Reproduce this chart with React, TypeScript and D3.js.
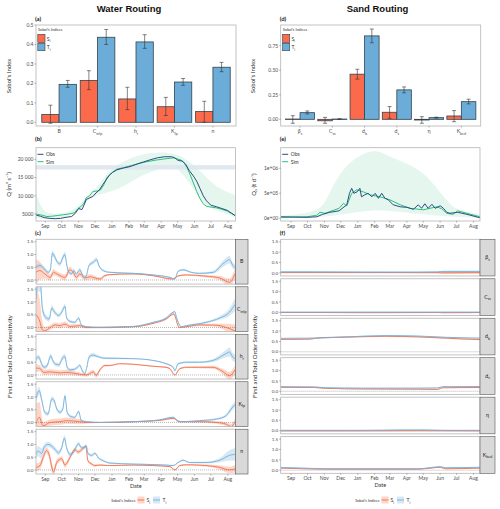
import * as d3 from "d3";

type Pt = [number, number, number]; // day since Aug 15, value, half band width
type P2 = [number, number];

// ---------- (a) / (d) Sobol's indices ----------
const waterParams: [string, string][] = [["B", ""], ["C", "mlp"], ["h", "r"], ["K", "fp"], ["n", ""]];
const waterSi = [0.04, 0.215, 0.12, 0.08, 0.055];
const waterSiLo = [-0.005, 0.168, 0.065, 0.035, 0.0];
const waterSiHi = [0.088, 0.265, 0.18, 0.128, 0.108];
const waterTi = [0.195, 0.437, 0.413, 0.207, 0.283];
const waterTiLo = [0.18, 0.4, 0.38, 0.19, 0.26];
const waterTiHi = [0.215, 0.477, 0.45, 0.225, 0.308];

const sandParams: [string, string][] = [["β", "s"], ["C", "ss"], ["d", "b"], ["d", "s"], ["η", ""], ["K", "bed"]];
const sandSi = [0.003, -0.015, 0.46, 0.072, -0.007, 0.034];
const sandSiLo = [-0.04, -0.04, 0.41, 0.01, -0.04, -0.024];
const sandSiHi = [0.037, 0.02, 0.51, 0.13, 0.027, 0.089];
const sandTi = [0.068, 0.003, 0.85, 0.3, 0.017, 0.18];
const sandTiLo = [0.055, 0.0, 0.78, 0.27, 0.012, 0.157];
const sandTiHi = [0.085, 0.006, 0.92, 0.33, 0.022, 0.205];

const waterBarTicks = [0, 0.1, 0.2, 0.3, 0.4, 0.5];
const waterBarLabels = ["0.0", "0.1", "0.2", "0.3", "0.4", "0.5"];
const sandBarTicks = [0, 0.25, 0.5, 0.75];
const sandBarLabels = ["0.00", "0.25", "0.50", "0.75"];

// ---------- (b) discharge ----------
const qTicks = [5000, 10000, 15000, 20000];
const qTickLabels = ["5000", "10 000", "15 000", "20 000"];
const qRefBand = [17200, 18400];
const qObs: P2[] = [
  [0, 4700], [8, 4400], [15, 4000], [25, 3800], [35, 3700], [45, 3800], [55, 4100], [65, 4300],
  [72, 5200], [78, 6500], [84, 6200], [88, 7500], [92, 9000], [98, 9400], [104, 9800], [110, 10800],
  [116, 11600], [122, 13000], [128, 14300], [134, 15600], [140, 16400], [148, 17100], [160, 17600],
  [172, 18000], [185, 18700], [197, 19300], [210, 19900], [222, 20400], [235, 20700], [248, 20700],
  [254, 20400], [260, 19700], [268, 19500], [274, 18600], [280, 17000], [288, 15400], [294, 14000],
  [300, 12000], [306, 10000], [312, 8600], [320, 7400], [330, 7000], [340, 6500], [350, 6000],
  [358, 5200], [364, 4600],
];
const qSim: P2[] = [
  [0, 5000], [10, 4700], [20, 4300], [30, 4400], [40, 4600], [50, 4800], [60, 5000], [70, 5300],
  [77, 6500], [82, 7000], [88, 8000], [92, 9500], [98, 10000], [104, 11200], [112, 11300], [118, 11600],
  [124, 13000], [130, 15000], [138, 16200], [148, 17300], [160, 17700], [175, 18300], [190, 18900],
  [205, 19400], [220, 19800], [240, 20200], [252, 20400], [258, 20100], [264, 19900], [270, 19200],
  [276, 17800], [282, 15800], [288, 13500], [294, 11200], [300, 9200], [306, 7800], [312, 7100],
  [320, 6900], [330, 6700], [340, 6300], [350, 5800], [358, 5100], [364, 4600],
];
const qUpper: P2[] = [
  [0, 10500], [8, 7500], [16, 5500], [30, 5000], [46, 5200], [60, 5500], [77, 7000], [92, 9500],
  [107, 11500], [122, 14500], [138, 17500], [160, 19500], [185, 21000], [210, 21800], [235, 22000],
  [255, 21400], [270, 20500], [289, 18500], [305, 16000], [319, 14000], [335, 12000], [350, 11000], [364, 10200],
];
const qLower: P2[] = [
  [0, 4000], [16, 3600], [46, 3700], [77, 5500], [92, 8500], [107, 10000], [122, 10500], [138, 11200],
  [160, 12500], [185, 15000], [210, 16500], [235, 18000], [255, 18500], [270, 15500], [289, 12000],
  [305, 8000], [319, 6500], [335, 5800], [350, 5000], [364, 4200],
];

// ---------- (e) sediment discharge ----------
const qsTicks = [0, 5e5, 1e6];
const qsTickLabels = ["0e+00", "5e+05", "1e+06"];
const qsObs: P2[] = [
  [-2, 30000], [21, 25000], [46, 20000], [64, 30000], [75, 80000], [88, 120000], [105, 150000],
  [119, 270000], [124, 500000], [128, 600000], [132, 500000], [138, 530000], [143, 600000],
  [146, 430000], [152, 470000], [158, 500000], [165, 430000], [171, 500000], [177, 400000],
  [183, 500000], [189, 400000], [195, 370000], [204, 270000], [217, 230000], [229, 220000],
  [241, 180000], [250, 270000], [256, 200000], [262, 290000], [268, 200000], [275, 280000],
  [281, 200000], [290, 250000], [296, 200000], [302, 120000], [308, 100000], [322, 120000],
  [339, 80000], [363, 10000],
];
const qsSim: P2[] = [
  [-2, 20000], [46, 30000], [64, 60000], [70, 120000], [79, 100000], [105, 200000], [113, 300000],
  [119, 250000], [128, 500000], [137, 570000], [149, 530000], [162, 470000], [180, 430000],
  [198, 370000], [217, 270000], [235, 200000], [259, 170000], [284, 230000], [293, 190000],
  [302, 100000], [314, 80000], [322, 150000], [339, 100000], [363, 30000],
];
const qsUpper: P2[] = [
  [-2, 50000], [46, 100000], [75, 200000], [88, 530000], [105, 870000], [125, 1130000], [150, 1300000],
  [168, 1350000], [180, 1340000], [198, 1230000], [229, 1100000], [259, 930000], [290, 530000],
  [308, 270000], [322, 170000], [363, 80000],
];
const qsLower: P2[] = [
  [-2, 0], [75, 20000], [105, 70000], [137, 120000], [168, 170000], [198, 150000], [229, 120000],
  [259, 80000], [290, 50000], [363, 10000],
];

// ---------- (c) water routing sensitivity ----------
const sensTicks = [0, 0.5, 1, 1.5];
const sensLabels = ["0.0", "0.5", "1.0", "1.5"];

const wB_T: Pt[] = [[0,0.5,0.08],[7,0.57,0.08],[16,0.43,0.08],[22,0.3,0.07],[26,0.37,0.08],[30,1.05,0.12],[35,0.88,0.1],[39,0.7,0.08],[44,0.63,0.08],[48,0.83,0.1],[53,1.0,0.12],[56,0.63,0.08],[60,0.3,0.06],[65,0.24,0.06],[69,0.37,0.07],[74,0.24,0.06],[80,0.4,0.07],[88,0.1,0.05],[92,0.17,0.05],[97,0.57,0.07],[105,0.7,0.08],[111,0.8,0.09],[115,0.57,0.06],[123,0.37,0.04],[135,0.3,0.03],[178,0.26,0.02],[214,0.2,0.02],[245,0.1,0.03],[254,0.04,0.03],[260,0.34,0.04],[269,0.4,0.04],[284,0.3,0.03],[299,0.26,0.03],[324,0.3,0.05],[342,0.63,0.12],[354,0.8,0.15],[360,0.57,0.12],[364,0.5,0.12]];
const wB_S: Pt[] = [[0,0.3,0.5],[7,0.37,0.35],[16,0.24,0.18],[26,0.1,0.12],[32,0.3,0.12],[38,0.24,0.1],[44,0.17,0.1],[53,0.1,0.12],[62,0.4,0.12],[68,0.3,0.1],[74,0.1,0.1],[80,0.24,0.1],[90,0.08,0.1],[99,0.13,0.1],[108,0.08,0.08],[117,0.04,0.06],[126,0.17,0.05],[135,0.21,0.03],[178,0.24,0.02],[214,0.17,0.02],[250,0.04,0.03],[260,0.16,0.03],[275,0.2,0.03],[311,0.15,0.04],[336,0.08,0.08],[354,-0.09,0.15],[364,0.24,0.2]];
const wC_T: Pt[] = [[0,1.1,0.3],[3,1.7,0.3],[8,1.7,0.3],[12,0.7,0.15],[19,0.37,0.1],[24,0.33,0.1],[29,0.77,0.1],[32,0.67,0.1],[37,0.53,0.08],[41,0.47,0.08],[47,0.6,0.09],[53,0.83,0.1],[56,0.37,0.07],[62,0.24,0.06],[71,0.2,0.05],[78,0.37,0.06],[83,0.1,0.04],[92,0.03,0.03],[117,0.0,0.02],[178,0.04,0.02],[214,0.2,0.02],[238,0.37,0.03],[251,0.6,0.04],[254,0.62,0.04],[257,0.4,0.04],[266,0.03,0.03],[275,0.07,0.03],[311,0.2,0.04],[336,0.37,0.07],[354,0.6,0.15],[364,0.9,0.25]];
const wC_S: Pt[] = [[0,0.5,1.0],[6,0.3,0.9],[12,-0.1,0.3],[16,-0.13,0.15],[26,0.0,0.1],[35,0.1,0.1],[44,0.07,0.1],[53,0.13,0.1],[62,0.04,0.08],[80,0.07,0.07],[92,0.0,0.04],[178,0.03,0.02],[214,0.16,0.02],[238,0.33,0.03],[252,0.53,0.04],[262,0.0,0.03],[275,0.03,0.03],[299,0.1,0.04],[330,0.09,0.06],[348,0.0,0.15],[364,-0.13,0.25]];
const wH_T: Pt[] = [[0,0.64,0.1],[5,0.7,0.1],[10,0.45,0.1],[14,0.3,0.08],[20,0.35,0.08],[27,0.75,0.1],[31,0.55,0.08],[36,0.42,0.08],[42,0.4,0.08],[49,0.68,0.1],[53,0.72,0.1],[57,0.3,0.07],[62,0.2,0.06],[70,0.22,0.06],[76,0.3,0.06],[80,0.38,0.06],[85,0.15,0.05],[89,0.05,0.05],[93,0.3,0.06],[97,0.7,0.08],[104,0.78,0.08],[112,0.73,0.06],[124,0.66,0.04],[178,0.64,0.02],[214,0.57,0.02],[238,0.44,0.03],[251,0.3,0.04],[254,0.17,0.04],[260,0.44,0.04],[275,0.5,0.04],[299,0.5,0.04],[324,0.57,0.06],[348,0.84,0.15],[354,0.9,0.18],[360,0.7,0.15],[364,0.65,0.15]];
const wH_S: Pt[] = [[0,0.27,0.15],[7,0.26,0.12],[14,0.1,0.1],[26,0.12,0.1],[44,0.08,0.1],[56,0.1,0.1],[74,0.05,0.08],[92,0.0,0.06],[105,0.12,0.08],[110,-0.02,0.08],[117,0.2,0.06],[126,0.37,0.04],[135,0.37,0.03],[153,0.44,0.02],[178,0.42,0.02],[214,0.34,0.02],[238,0.3,0.03],[245,0.24,0.03],[254,0.0,0.03],[263,0.24,0.03],[275,0.3,0.03],[299,0.3,0.04],[324,0.3,0.06],[342,0.13,0.1],[354,-0.03,0.15],[364,0.2,0.18]];
const wK_T: Pt[] = [[0,0.93,0.2],[6,1.25,0.15],[10,0.93,0.12],[16,0.4,0.08],[22,0.33,0.08],[29,0.93,0.1],[33,0.87,0.1],[38,0.53,0.08],[44,0.4,0.08],[49,0.53,0.08],[53,1.04,0.1],[57,0.4,0.07],[63,0.24,0.06],[71,0.2,0.05],[78,0.43,0.06],[83,0.07,0.04],[92,0.03,0.03],[117,0.0,0.02],[178,0.03,0.02],[226,0.1,0.02],[251,0.2,0.03],[257,0.1,0.03],[266,0.03,0.02],[299,0.07,0.03],[330,0.13,0.04],[348,0.27,0.06],[357,0.53,0.1],[364,0.7,0.12]];
const wK_S: Pt[] = [[0,-0.07,0.8],[6,0.2,0.6],[13,-0.13,0.15],[26,0.0,0.12],[44,0.03,0.12],[56,0.07,0.12],[80,0.03,0.1],[95,0.0,0.04],[117,0.0,0.02],[178,0.03,0.02],[226,0.08,0.02],[252,0.16,0.03],[262,0.03,0.02],[299,0.03,0.03],[330,0.0,0.05],[348,-0.07,0.08],[357,-0.16,0.1],[364,0.03,0.12]];
const wN_T: Pt[] = [[0,0.61,0.15],[4,0.74,0.2],[10,0.65,0.2],[16,0.93,0.12],[22,1.0,0.1],[29,0.93,0.1],[35,0.8,0.1],[41,0.67,0.1],[47,0.87,0.1],[52,1.25,0.12],[56,0.87,0.1],[62,0.61,0.08],[68,0.67,0.08],[74,0.93,0.08],[78,1.03,0.08],[83,0.87,0.07],[88,0.87,0.07],[92,0.95,0.06],[95,0.65,0.06],[102,0.57,0.06],[108,0.65,0.05],[114,0.48,0.05],[123,0.36,0.04],[135,0.27,0.03],[178,0.23,0.02],[214,0.21,0.02],[238,0.19,0.02],[251,0.17,0.03],[260,0.29,0.03],[269,0.38,0.04],[281,0.29,0.03],[311,0.29,0.04],[336,0.38,0.08],[354,0.57,0.2],[364,0.61,0.25]];
const wN_S: Pt[] = [[0,0.1,0.15],[7,0.16,0.15],[13,0.48,0.15],[19,0.76,0.12],[24,0.6,0.15],[28,0.2,0.2],[32,-0.08,0.15],[38,0.3,0.12],[44,0.42,0.1],[47,0.44,0.1],[53,0.19,0.1],[59,0.36,0.1],[65,0.61,0.08],[71,0.8,0.08],[77,0.7,0.08],[83,0.78,0.08],[91,0.93,0.06],[95,0.36,0.06],[102,0.23,0.06],[108,0.17,0.05],[117,0.19,0.03],[135,0.17,0.02],[178,0.19,0.02],[214,0.17,0.02],[245,0.13,0.03],[254,0.0,0.03],[263,0.17,0.03],[275,0.2,0.03],[311,0.17,0.04],[336,0.1,0.08],[354,0.0,0.12],[364,0.04,0.15]];

// ---------- (f) sand routing sensitivity ----------
const sBs_T: Pt[] = [[-2,0.05,0.02],[60,0.05,0.02],[150,0.04,0.015],[250,0.04,0.015],[285,0.05,0.02],[295,0.07,0.03],[363,0.07,0.03]];
const sBs_S: Pt[] = [[-2,0.02,0.02],[150,0.02,0.02],[285,0.01,0.02],[295,0.0,0.03],[363,0.01,0.03]];
const sCs_T: Pt[] = [[-2,0.01,0.01],[100,0.01,0.01],[250,0.01,0.01],[363,0.01,0.01]];
const sCs_S: Pt[] = [[-2,-0.01,0.015],[80,-0.01,0.015],[150,-0.02,0.015],[285,-0.01,0.02],[295,-0.02,0.02],[363,-0.01,0.02]];
const sDb_T: Pt[] = [[-2,0.65,0.02],[60,0.66,0.02],[120,0.72,0.02],[190,0.78,0.03],[250,0.76,0.02],[300,0.7,0.02],[363,0.66,0.02]];
const sDb_S: Pt[] = [[-2,0.6,0.03],[50,0.61,0.03],[70,0.68,0.03],[120,0.71,0.03],[190,0.75,0.03],[250,0.72,0.03],[300,0.66,0.03],[330,0.62,0.03],[363,0.59,0.03]];
const sDs_T: Pt[] = [[-2,0.22,0.02],[60,0.21,0.02],[80,0.17,0.02],[150,0.15,0.02],[250,0.15,0.02],[285,0.16,0.02],[295,0.22,0.02],[363,0.23,0.02]];
const sDs_S: Pt[] = [[-2,0.19,0.02],[60,0.18,0.02],[80,0.14,0.02],[150,0.11,0.02],[250,0.1,0.02],[285,0.09,0.02],[295,0.17,0.02],[363,0.18,0.02]];
const sEta_T: Pt[] = [[-2,0.02,0.01],[150,0.02,0.01],[220,0.04,0.01],[260,0.04,0.01],[300,0.02,0.01],[363,0.02,0.01]];
const sEta_S: Pt[] = [[-2,-0.01,0.02],[120,-0.01,0.02],[250,0.0,0.02],[363,-0.01,0.02]];
const sKb_T: Pt[] = [[-2,0.13,0.02],[40,0.1,0.02],[80,0.07,0.02],[250,0.07,0.02],[280,0.15,0.02],[290,0.17,0.02],[300,0.12,0.02],[363,0.14,0.02]];
const sKb_S: Pt[] = [[-2,0.1,0.02],[40,0.07,0.02],[80,0.05,0.02],[250,0.05,0.02],[280,0.12,0.02],[290,0.14,0.02],[300,0.07,0.02],[363,0.1,0.02]];

const waterSens = [
  { p: waterParams[0], s: wB_S, t: wB_T },
  { p: waterParams[1], s: wC_S, t: wC_T },
  { p: waterParams[2], s: wH_S, t: wH_T },
  { p: waterParams[3], s: wK_S, t: wK_T },
  { p: waterParams[4], s: wN_S, t: wN_T },
];
const sandSens = [
  { p: sandParams[0], s: sBs_S, t: sBs_T },
  { p: sandParams[1], s: sCs_S, t: sCs_T },
  { p: sandParams[2], s: sDb_S, t: sDb_T },
  { p: sandParams[3], s: sDs_S, t: sDs_T },
  { p: sandParams[4], s: sEta_S, t: sEta_T },
  { p: sandParams[5], s: sKb_S, t: sKb_T },
];

// colours
const SI = "#fc6a4c";
const TI = "#6badd8";
const SI_LINE = "#f36e4f";
const TI_LINE = "#70b0dc";
const OBS = "#2a4c84";
const SIM = "#2fbf7a";
const GRID = "#b5b5b5";
const TXT = "#4d4d4d";
const FONT = "Lato, 'DejaVu Sans', sans-serif";

const toDate = (d: number) => new Date(2001, 7, 15 + d);
const months = d3.timeMonth.range(new Date(2001, 8, 1), new Date(2002, 7, 2));
const fmtMonth = d3.timeFormat("%b");

const xLeft = d3.scaleTime().domain([toDate(0), toDate(365)]).range([36, 235.5]);
const xRight = d3.scaleTime().domain([toDate(-2), toDate(363)]).range([280.7, 480]);

function Sub({ base, sub, fs }: { base: string; sub: string; fs: number }) {
  return (
    <>
      {base}
      {sub ? (
        <tspan fontSize={fs * 0.7} dy={fs * 0.3}>
          {sub}
        </tspan>
      ) : null}
    </>
  );
}

function BarPanel(props: any) {
  const { left, right, top, bottom, params, si, siLo, siHi, ti, tiLo, tiHi, domain, ticks, tickLabels, tag } = props;
  const x = d3.scalePoint<number>().domain(d3.range(params.length)).range([left, right]).padding(0.6);
  const y = d3.scaleLinear().domain(domain).range([bottom, top]);
  const bw = x.step() * 0.45;
  const cap = 2;
  const bars = (vals: number[], lo: number[], hi: number[], off: number, fill: string) =>
    vals.map((v, i) => {
      const cx = (x(i) as number) + off;
      return (
        <g key={i}>
          <rect x={cx - bw / 2} y={Math.min(y(v), y(0))} width={bw} height={Math.max(0.4, Math.abs(y(v) - y(0)))}
            fill={fill} stroke="#34434d" strokeWidth={0.8} />
          <line x1={cx} x2={cx} y1={y(lo[i])} y2={y(hi[i])} stroke="#333" strokeWidth={0.6} />
          <line x1={cx - cap} x2={cx + cap} y1={y(lo[i])} y2={y(lo[i])} stroke="#333" strokeWidth={0.6} />
          <line x1={cx - cap} x2={cx + cap} y1={y(hi[i])} y2={y(hi[i])} stroke="#333" strokeWidth={0.6} />
        </g>
      );
    });
  return (
    <g fontFamily={FONT}>
      <text x={left - 1} y={top - 4.5} fontSize={6} fontWeight="bold" fill="#222">{tag}</text>
      {bars(si, siLo, siHi, -bw / 2, SI)}
      {bars(ti, tiLo, tiHi, bw / 2, TI)}
      <rect x={left} y={top} width={right - left} height={bottom - top} fill="none" stroke={GRID} strokeWidth={0.8} />
      {ticks.map((t: number, i: number) => (
        <g key={t}>
          <line x1={left - 1.5} x2={left} y1={y(t)} y2={y(t)} stroke="#666" strokeWidth={0.5} />
          <text x={left - 2.5} y={y(t) + 1.8} fontSize={5} textAnchor="end" fill={TXT}>{tickLabels[i]}</text>
        </g>
      ))}
      {params.map((p: [string, string], i: number) => (
        <g key={i}>
          <line x1={x(i)} x2={x(i)} y1={bottom} y2={bottom + 1.5} stroke="#666" strokeWidth={0.5} />
          <text x={x(i)} y={bottom + 7} fontSize={5.2} textAnchor="middle" fill={TXT}>
            <Sub base={p[0]} sub={p[1]} fs={5.2} />
          </text>
        </g>
      ))}
      <text x={left + 2} y={top + 5.5} fontSize={3.8} fill="#333">Sobol's Indices</text>
      <rect x={left + 1.8} y={top + 9.3} width={7.2} height={8.3} fill={SI} stroke="#34434d" strokeWidth={0.6} />
      <rect x={left + 1.8} y={top + 18.3} width={7.2} height={7.4} fill={TI} stroke="#34434d" strokeWidth={0.6} />
      <text x={left + 10.7} y={top + 15.5} fontSize={5} fill="#333"><Sub base="S" sub="i" fs={5} /></text>
      <text x={left + 10.7} y={top + 24} fontSize={5} fill="#333"><Sub base="T" sub="i" fs={5} /></text>
    </g>
  );
}

function FlowPanel(props: any) {
  const { x, top, bottom, domain, ticks, tickLabels, obs, sim, upper, lower, refBand, tag, id } = props;
  const [left, right] = x.range();
  const y = d3.scaleLinear().domain(domain).range([bottom, top]);
  const band = d3.area<P2>().x((d) => x(toDate(d[0]))).y0((d, i) => y(lower ? d[1] : 0)).y1((d) => y(d[1])).curve(d3.curveBasis);
  const ln = d3.line<P2>().x((d) => x(toDate(d[0]))).y((d) => y(d[1]));
  const up = d3.line<P2>().x((d) => x(toDate(d[0]))).y((d) => y(d[1])).curve(d3.curveBasis)(upper) as string;
  const lowRev = [...lower].reverse();
  const low = d3.line<P2>().x((d) => x(toDate(d[0]))).y((d) => y(d[1])).curve(d3.curveBasis)(lowRev) as string;
  const bandPath = up + "L" + low.slice(1) + "Z";
  void band;
  return (
    <g fontFamily={FONT}>
      <text x={left - 1} y={top - 6.5} fontSize={6} fontWeight="bold" fill="#222">{tag}</text>
      <clipPath id={id}><rect x={left} y={top} width={right - left} height={bottom - top} /></clipPath>
      <g clipPath={`url(#${id})`}>
        <path d={bandPath} fill="#e4f6ed" />
        {refBand ? (
          <rect x={left} y={y(refBand[1])} width={right - left} height={y(refBand[0]) - y(refBand[1])} fill="#dde5ee" opacity={0.9} />
        ) : null}
        <path d={ln(sim) as string} fill="none" stroke={SIM} strokeWidth={1} />
        <path d={ln(obs) as string} fill="none" stroke={OBS} strokeWidth={1} />
      </g>
      <rect x={left} y={top} width={right - left} height={bottom - top} fill="none" stroke={GRID} strokeWidth={0.8} />
      {ticks.map((t: number, i: number) => (
        <g key={t}>
          <line x1={left - 1.5} x2={left} y1={y(t)} y2={y(t)} stroke="#666" strokeWidth={0.5} />
          <text x={left - 2.5} y={y(t) + 1.8} fontSize={5} textAnchor="end" fill={TXT}>{tickLabels[i]}</text>
        </g>
      ))}
      {months.map((m, i) => (
        <g key={i}>
          <line x1={x(m)} x2={x(m)} y1={bottom} y2={bottom + 1.5} stroke="#666" strokeWidth={0.5} />
          <text x={x(m)} y={bottom + 7} fontSize={5} textAnchor="middle" fill={TXT}>{fmtMonth(m)}</text>
        </g>
      ))}
      <line x1={left + 1.5} x2={left + 7.5} y1={top + 6.6} y2={top + 6.6} stroke={OBS} strokeWidth={1} />
      <line x1={left + 1.5} x2={left + 7.5} y1={top + 14} y2={top + 14} stroke={SIM} strokeWidth={1} />
      <text x={left + 10} y={top + 8.4} fontSize={5} fill="#333">Obs</text>
      <text x={left + 10} y={top + 15.8} fontSize={5} fill="#333">Sim</text>
    </g>
  );
}

function SensColumn(props: any) {
  const { x, top, bottom, gap, domain, facets, stripW, tag, idp } = props;
  const [left, right] = x.range();
  const n = facets.length;
  const h = (bottom - top - gap * (n - 1)) / n;
  return (
    <g fontFamily={FONT}>
      <text x={left - 1} y={top - 4} fontSize={6} fontWeight="bold" fill="#222">{tag}</text>
      {facets.map((f: any, k: number) => {
        const t0 = top + k * (h + gap);
        const y = d3.scaleLinear().domain(domain).range([t0 + h, t0]);
        const area = d3.area<Pt>().x((d) => x(toDate(d[0]))).y0((d) => y(d[1] - d[2])).y1((d) => y(d[1] + d[2])).curve(d3.curveMonotoneX);
        const line = d3.line<Pt>().x((d) => x(toDate(d[0]))).y((d) => y(d[1])).curve(d3.curveMonotoneX);
        const cid = `${idp}${k}`;
        return (
          <g key={k}>
            <clipPath id={cid}><rect x={left} y={t0} width={right - left} height={h} /></clipPath>
            <g clipPath={`url(#${cid})`}>
              <path d={area(f.s) as string} fill="#fcae91" opacity={0.5} />
              <path d={area(f.t) as string} fill="#a6cde6" opacity={0.45} />
              <line x1={left} x2={right} y1={y(0)} y2={y(0)} stroke="#666" strokeWidth={0.6} strokeDasharray="0.8,1.2" />
              <path d={line(f.s) as string} fill="none" stroke={SI_LINE} strokeWidth={0.9} />
              <path d={line(f.t) as string} fill="none" stroke={TI_LINE} strokeWidth={0.9} />
            </g>
            <rect x={left} y={t0} width={right - left} height={h} fill="none" stroke={GRID} strokeWidth={0.8} />
            <rect x={right} y={t0} width={stripW} height={h} fill="#d9d9d9" stroke="#555" strokeWidth={0.6} />
            <text x={right + stripW / 2} y={t0 + h / 2 + 1.8} fontSize={5.2} textAnchor="middle" fill="#1a1a1a">
              <Sub base={f.p[0]} sub={f.p[1]} fs={5.2} />
            </text>
            {sensTicks.map((t, i) => (
              <g key={t}>
                <line x1={left - 1.5} x2={left} y1={y(t)} y2={y(t)} stroke="#666" strokeWidth={0.5} />
                <text x={left - 2.5} y={y(t) + 1.7} fontSize={4.6} textAnchor="end" fill={TXT}>{sensLabels[i]}</text>
              </g>
            ))}
          </g>
        );
      })}
      {months.map((m, i) => (
        <g key={i}>
          <line x1={x(m)} x2={x(m)} y1={bottom} y2={bottom + 1.5} stroke="#666" strokeWidth={0.5} />
          <text x={x(m)} y={bottom + 7} fontSize={5} textAnchor="middle" fill={TXT}>{fmtMonth(m)}</text>
        </g>
      ))}
      <text x={(left + right) / 2} y={bottom + 13.5} fontSize={5.5} textAnchor="middle" fill="#333">Date</text>
    </g>
  );
}

function BottomLegend({ xEnd, y }: { xEnd: number; y: number }) {
  return (
    <g fontFamily={FONT}>
      <text x={xEnd} y={y + 1.5} fontSize={3.8} textAnchor="end" fill="#333">Sobol's Indices</text>
      <rect x={xEnd + 2} y={y - 3.5} width={7} height={7} fill="#fcae91" opacity={0.5} />
      <line x1={xEnd + 2} x2={xEnd + 9} y1={y} y2={y} stroke={SI_LINE} strokeWidth={0.9} />
      <text x={xEnd + 11} y={y + 2} fontSize={5} fill="#333"><Sub base="S" sub="i" fs={5} /></text>
      <rect x={xEnd + 17.5} y={y - 3.5} width={7} height={7} fill="#a6cde6" opacity={0.45} />
      <line x1={xEnd + 17.5} x2={xEnd + 24.5} y1={y} y2={y} stroke={TI_LINE} strokeWidth={0.9} />
      <text x={xEnd + 27} y={y + 2} fontSize={5} fill="#333"><Sub base="T" sub="i" fs={5} /></text>
    </g>
  );
}

export default function App() {
  return (
    <svg width={500} height={509} viewBox="0 0 500 509" style={{ position: "absolute", left: 0, top: 0, background: "#fff" }}>
      <rect width={500} height={509} fill="#fff" />
      <text x={129} y={11.5} fontSize={9.5} fontWeight="bold" textAnchor="middle" fontFamily="'Liberation Sans', Arial, sans-serif" fill="#111">Water Routing</text>
      <text x={377.5} y={11.5} fontSize={9.5} fontWeight="bold" textAnchor="middle" fontFamily="'Liberation Sans', Arial, sans-serif" fill="#111">Sand Routing</text>

      <BarPanel left={36} right={236} top={25} bottom={126} params={waterParams}
        si={waterSi} siLo={waterSiLo} siHi={waterSiHi} ti={waterTi} tiLo={waterTiLo} tiHi={waterTiHi}
        domain={[-0.019, 0.5]} ticks={waterBarTicks} tickLabels={waterBarLabels} tag="(a)" />
      <BarPanel left={280.7} right={480.7} top={25} bottom={126} params={sandParams}
        si={sandSi} siLo={sandSiLo} siHi={sandSiHi} ti={sandTi} tiLo={sandTiLo} tiHi={sandTiHi}
        domain={[-0.068, 0.961]} ticks={sandBarTicks} tickLabels={sandBarLabels} tag="(d)" />

      <FlowPanel x={xLeft} top={147.7} bottom={221} domain={[3080, 23180]} ticks={qTicks} tickLabels={qTickLabels}
        obs={qObs} sim={qSim} upper={qUpper} lower={qLower} refBand={qRefBand} tag="(b)" id="clipB" />
      <FlowPanel x={xRight} top={147.7} bottom={221} domain={[-54000, 1412000]} ticks={qsTicks} tickLabels={qsTickLabels}
        obs={qsObs} sim={qsSim} upper={qsUpper} lower={qsLower} tag="(e)" id="clipE" />

      <SensColumn x={xLeft} top={239.3} bottom={474} gap={2.7} domain={[-0.16, 1.596]} facets={waterSens} stripW={12.5} tag="(c)" idp="clipC" />
      <SensColumn x={xRight} top={239.3} bottom={473.3} gap={2.8} domain={[-0.15, 1.62]} facets={sandSens} stripW={15} tag="(f)" idp="clipF" />

      <BottomLegend xEnd={135.5} y={500} />
      <BottomLegend xEnd={379.5} y={500} />

      <g fontFamily={FONT} fill="#333" fontSize={6} textAnchor="middle">
        <text transform="translate(11,76) rotate(-90)">Sobol's Index</text>
        <text transform="translate(255,76) rotate(-90)">Sobol's Index</text>
        <text transform="translate(11,184.5) rotate(-90)">Q (m³ s⁻¹)</text>
        <text transform="translate(255.5,184.5) rotate(-90)">
          <Sub base="Q" sub="s" fs={6} />
          <tspan dy={-1.8}> (t d⁻¹)</tspan>
        </text>
        <text transform="translate(12,356.5) rotate(-90)">First and Total Order Sensitivity</text>
        <text transform="translate(257,356.5) rotate(-90)">First and Total Order Sensitivity</text>
      </g>
    </svg>
  );
}
